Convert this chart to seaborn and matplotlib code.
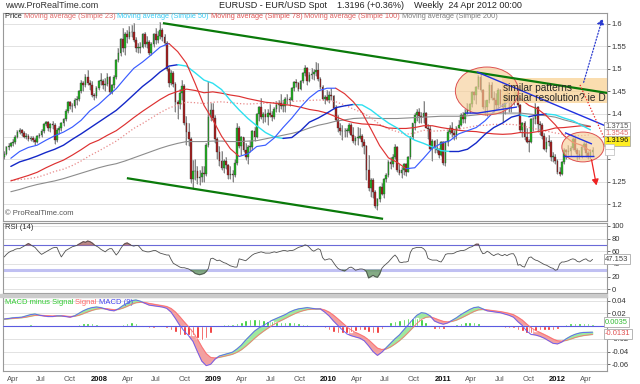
import matplotlib
matplotlib.use("Agg")
import numpy as np
import pandas as pd
import matplotlib.pyplot as plt
import matplotlib.dates as mdates
from matplotlib.patches import Ellipse, Rectangle
import seaborn as sns

# weekly EUR/USD candles, first week 5 Mar 2007
first_week = "2007-03-05"
first_open = 1.305
close = [
    1.312, 1.326, 1.330, 1.335, 1.338, 1.350, 1.360, 1.364, 1.359, 1.350,
    1.352, 1.345, 1.346, 1.343, 1.339, 1.351, 1.354, 1.362, 1.378, 1.382,
    1.369, 1.377, 1.375, 1.343, 1.365, 1.368, 1.380, 1.388, 1.407, 1.426,
    1.417, 1.418, 1.430, 1.433, 1.450, 1.468, 1.464, 1.482, 1.468, 1.465,
    1.442, 1.440, 1.458, 1.473, 1.474, 1.465, 1.467, 1.482, 1.449, 1.464,
    1.482, 1.520, 1.535, 1.565, 1.545, 1.578, 1.571, 1.581, 1.581, 1.563,
    1.546, 1.546, 1.549, 1.576, 1.554, 1.560, 1.536, 1.555, 1.577, 1.564,
    1.572, 1.586, 1.570, 1.558, 1.500, 1.468, 1.491, 1.467, 1.426, 1.422,
    1.447, 1.463, 1.381, 1.361, 1.345, 1.257, 1.273, 1.274, 1.259, 1.260,
    1.270, 1.268, 1.332, 1.394, 1.408, 1.392, 1.344, 1.316, 1.297, 1.281,
    1.295, 1.288, 1.264, 1.267, 1.264, 1.291, 1.369, 1.329, 1.348, 1.321,
    1.305, 1.327, 1.328, 1.362, 1.349, 1.399, 1.416, 1.394, 1.399, 1.393,
    1.403, 1.397, 1.394, 1.411, 1.419, 1.425, 1.418, 1.418, 1.433, 1.434,
    1.432, 1.457, 1.471, 1.468, 1.456, 1.472, 1.491, 1.501, 1.472, 1.487,
    1.488, 1.492, 1.497, 1.478, 1.460, 1.434, 1.437, 1.432, 1.441, 1.439,
    1.414, 1.387, 1.368, 1.363, 1.362, 1.363, 1.363, 1.376, 1.353, 1.341,
    1.347, 1.347, 1.351, 1.338, 1.329, 1.275, 1.236, 1.255, 1.227, 1.196,
    1.211, 1.239, 1.224, 1.257, 1.264, 1.294, 1.290, 1.305, 1.328, 1.275,
    1.270, 1.276, 1.289, 1.272, 1.305, 1.349, 1.379, 1.397, 1.405, 1.395,
    1.393, 1.402, 1.369, 1.366, 1.323, 1.340, 1.325, 1.320, 1.309, 1.338,
    1.291, 1.338, 1.361, 1.369, 1.359, 1.353, 1.370, 1.375, 1.398, 1.390,
    1.402, 1.409, 1.423, 1.448, 1.443, 1.459, 1.481, 1.453, 1.415, 1.416,
    1.430, 1.464, 1.435, 1.430, 1.420, 1.453, 1.422, 1.416, 1.439, 1.440,
    1.428, 1.424, 1.440, 1.449, 1.420, 1.365, 1.379, 1.350, 1.339, 1.338,
    1.388, 1.390, 1.415, 1.378, 1.376, 1.352, 1.323, 1.339, 1.338, 1.305,
    1.305, 1.296, 1.272, 1.268, 1.293, 1.321, 1.315, 1.319, 1.324, 1.345,
    1.320, 1.312, 1.307, 1.327, 1.334, 1.314, 1.307, 1.315, 1.3196,
]
high = [
    1.318, 1.330, 1.335, 1.339, 1.345, 1.354, 1.364, 1.368, 1.367, 1.362,
    1.358, 1.356, 1.352, 1.352, 1.347, 1.354, 1.359, 1.366, 1.381, 1.385,
    1.384, 1.381, 1.385, 1.379, 1.369, 1.374, 1.383, 1.392, 1.410, 1.428,
    1.428, 1.424, 1.435, 1.440, 1.453, 1.475, 1.472, 1.488, 1.497, 1.475,
    1.473, 1.447, 1.463, 1.476, 1.490, 1.478, 1.480, 1.490, 1.485, 1.467,
    1.486, 1.522, 1.545, 1.568, 1.590, 1.582, 1.585, 1.595, 1.597, 1.602,
    1.570, 1.556, 1.560, 1.580, 1.582, 1.572, 1.563, 1.560, 1.580, 1.590,
    1.583, 1.604, 1.590, 1.578, 1.562, 1.503, 1.497, 1.495, 1.470, 1.430,
    1.455, 1.475, 1.466, 1.395, 1.380, 1.350, 1.298, 1.300, 1.285, 1.277,
    1.285, 1.285, 1.335, 1.472, 1.425, 1.425, 1.398, 1.350, 1.330, 1.318,
    1.300, 1.305, 1.290, 1.285, 1.275, 1.300, 1.380, 1.373, 1.352, 1.348,
    1.335, 1.331, 1.340, 1.365, 1.372, 1.403, 1.418, 1.435, 1.405, 1.412,
    1.410, 1.422, 1.406, 1.415, 1.428, 1.430, 1.445, 1.430, 1.437, 1.445,
    1.438, 1.460, 1.474, 1.478, 1.470, 1.476, 1.494, 1.508, 1.505, 1.493,
    1.502, 1.500, 1.514, 1.512, 1.482, 1.465, 1.441, 1.452, 1.450, 1.458,
    1.443, 1.420, 1.398, 1.380, 1.376, 1.369, 1.370, 1.380, 1.380, 1.372,
    1.351, 1.372, 1.369, 1.356, 1.345, 1.332, 1.309, 1.258, 1.259, 1.232,
    1.215, 1.240, 1.248, 1.258, 1.270, 1.299, 1.304, 1.311, 1.333, 1.330,
    1.290, 1.283, 1.292, 1.292, 1.307, 1.352, 1.381, 1.403, 1.412, 1.414,
    1.405, 1.428, 1.404, 1.378, 1.376, 1.345, 1.343, 1.345, 1.325, 1.341,
    1.340, 1.340, 1.364, 1.376, 1.382, 1.364, 1.373, 1.386, 1.402, 1.405,
    1.411, 1.425, 1.425, 1.450, 1.450, 1.462, 1.487, 1.494, 1.456, 1.430,
    1.432, 1.470, 1.470, 1.450, 1.446, 1.458, 1.455, 1.424, 1.447, 1.455,
    1.445, 1.443, 1.450, 1.453, 1.455, 1.422, 1.383, 1.384, 1.368, 1.345,
    1.391, 1.393, 1.424, 1.418, 1.385, 1.381, 1.357, 1.350, 1.354, 1.342,
    1.315, 1.311, 1.300, 1.283, 1.297, 1.324, 1.323, 1.332, 1.330, 1.349,
    1.349, 1.325, 1.320, 1.330, 1.338, 1.338, 1.319, 1.323, 1.326,
]
low = [
    1.300, 1.309, 1.321, 1.326, 1.330, 1.334, 1.347, 1.355, 1.352, 1.346,
    1.344, 1.341, 1.340, 1.337, 1.331, 1.335, 1.346, 1.350, 1.359, 1.373,
    1.362, 1.361, 1.366, 1.333, 1.339, 1.356, 1.363, 1.374, 1.384, 1.403,
    1.410, 1.405, 1.413, 1.420, 1.429, 1.446, 1.450, 1.460, 1.465, 1.452,
    1.438, 1.430, 1.436, 1.453, 1.465, 1.456, 1.450, 1.463, 1.445, 1.444,
    1.458, 1.478, 1.515, 1.528, 1.538, 1.530, 1.558, 1.565, 1.570, 1.560,
    1.538, 1.535, 1.535, 1.545, 1.548, 1.546, 1.530, 1.530, 1.548, 1.555,
    1.556, 1.565, 1.562, 1.552, 1.496, 1.460, 1.465, 1.460, 1.405, 1.390,
    1.410, 1.430, 1.375, 1.332, 1.330, 1.248, 1.233, 1.255, 1.245, 1.242,
    1.250, 1.250, 1.262, 1.328, 1.385, 1.385, 1.335, 1.300, 1.285, 1.275,
    1.270, 1.278, 1.256, 1.256, 1.250, 1.260, 1.287, 1.325, 1.310, 1.315,
    1.298, 1.290, 1.315, 1.320, 1.340, 1.346, 1.385, 1.390, 1.380, 1.383,
    1.375, 1.393, 1.385, 1.390, 1.405, 1.405, 1.412, 1.405, 1.405, 1.422,
    1.418, 1.428, 1.450, 1.460, 1.450, 1.453, 1.468, 1.485, 1.465, 1.470,
    1.478, 1.475, 1.485, 1.474, 1.455, 1.430, 1.423, 1.428, 1.425, 1.432,
    1.410, 1.385, 1.360, 1.353, 1.343, 1.348, 1.350, 1.358, 1.352, 1.335,
    1.332, 1.332, 1.345, 1.328, 1.311, 1.253, 1.230, 1.216, 1.214, 1.193,
    1.188, 1.206, 1.220, 1.215, 1.250, 1.260, 1.278, 1.282, 1.300, 1.271,
    1.265, 1.259, 1.266, 1.262, 1.271, 1.300, 1.345, 1.364, 1.385, 1.380,
    1.380, 1.380, 1.368, 1.345, 1.320, 1.297, 1.313, 1.313, 1.303, 1.306,
    1.287, 1.286, 1.330, 1.355, 1.350, 1.343, 1.345, 1.366, 1.373, 1.380,
    1.380, 1.400, 1.402, 1.415, 1.430, 1.423, 1.455, 1.448, 1.410, 1.398,
    1.395, 1.425, 1.430, 1.405, 1.410, 1.410, 1.418, 1.383, 1.401, 1.428,
    1.405, 1.404, 1.420, 1.430, 1.415, 1.361, 1.349, 1.343, 1.335, 1.315,
    1.335, 1.363, 1.378, 1.360, 1.353, 1.345, 1.320, 1.315, 1.330, 1.295,
    1.294, 1.290, 1.268, 1.262, 1.265, 1.290, 1.300, 1.310, 1.308, 1.320,
    1.315, 1.298, 1.300, 1.303, 1.320, 1.304, 1.300, 1.300, 1.307,
]

# moving averages, read every 4th week (weeks 3, 7, 11, ...)
ma23 = [
    1.302, 1.317, 1.326, 1.331, 1.342, 1.352, 1.360, 1.371, 1.386, 1.407,
    1.421, 1.439, 1.456, 1.479, 1.501, 1.515, 1.531, 1.548, 1.556, 1.538,
    1.512, 1.467, 1.419, 1.387, 1.351, 1.323, 1.306, 1.312, 1.328, 1.331,
    1.347, 1.370, 1.391, 1.415, 1.436, 1.451, 1.457, 1.457, 1.445, 1.427,
    1.403, 1.367, 1.330, 1.303, 1.293, 1.279, 1.281, 1.302, 1.324, 1.335,
    1.341, 1.356, 1.363, 1.370, 1.385, 1.405, 1.419, 1.431, 1.434, 1.419,
    1.411, 1.396, 1.376, 1.352, 1.337, 1.331, 1.318,
]
ma50 = [
    1.284, 1.294, 1.300, 1.307, 1.315, 1.322, 1.331, 1.344, 1.356, 1.369,
    1.382, 1.395, 1.408, 1.425, 1.443, 1.461, 1.476, 1.493, 1.506, 1.509,
    1.506, 1.491, 1.475, 1.468, 1.454, 1.430, 1.409, 1.390, 1.374, 1.359,
    1.349, 1.346, 1.348, 1.363, 1.382, 1.391, 1.402, 1.414, 1.418, 1.421,
    1.420, 1.409, 1.394, 1.380, 1.369, 1.353, 1.342, 1.335, 1.327, 1.319,
    1.317, 1.317, 1.322, 1.336, 1.355, 1.370, 1.380, 1.393, 1.398, 1.394,
    1.398, 1.400, 1.398, 1.391, 1.385, 1.375, 1.365,
]
ma78 = [
    1.252, 1.258, 1.264, 1.271, 1.281, 1.290, 1.298, 1.309, 1.321, 1.334,
    1.342, 1.353, 1.363, 1.377, 1.392, 1.406, 1.419, 1.432, 1.443, 1.450,
    1.455, 1.452, 1.447, 1.449, 1.446, 1.442, 1.439, 1.434, 1.430, 1.426,
    1.424, 1.421, 1.419, 1.415, 1.410, 1.407, 1.402, 1.394, 1.386, 1.381,
    1.378, 1.377, 1.375, 1.369, 1.368, 1.368, 1.370, 1.374, 1.374, 1.370,
    1.367, 1.364, 1.362, 1.361, 1.358, 1.356, 1.355, 1.356, 1.359, 1.358,
    1.361, 1.364, 1.369, 1.370, 1.372, 1.374, 1.372,
]
ma100 = [
    1.253, 1.255, 1.257, 1.260, 1.266, 1.273, 1.278, 1.286, 1.296, 1.308,
    1.318, 1.329, 1.340, 1.354, 1.368, 1.379, 1.391, 1.403, 1.413, 1.420,
    1.426, 1.425, 1.423, 1.426, 1.427, 1.425, 1.423, 1.422, 1.423, 1.424,
    1.425, 1.427, 1.428, 1.429, 1.430, 1.431, 1.430, 1.427, 1.420, 1.411,
    1.403, 1.392, 1.377, 1.367, 1.361, 1.355, 1.358, 1.364, 1.362, 1.363,
    1.365, 1.367, 1.370, 1.374, 1.375, 1.377, 1.377, 1.377, 1.375, 1.370,
    1.366, 1.362, 1.358, 1.355, 1.353, 1.352, 1.354,
]
ma200 = [
    1.228, 1.233, 1.239, 1.244, 1.248, 1.252, 1.257, 1.263, 1.269, 1.275,
    1.281, 1.286, 1.290, 1.296, 1.303, 1.310, 1.317, 1.324, 1.330, 1.335,
    1.339, 1.339, 1.339, 1.340, 1.340, 1.339, 1.339, 1.340, 1.341, 1.345,
    1.349, 1.353, 1.357, 1.362, 1.369, 1.375, 1.379, 1.384, 1.387, 1.390,
    1.391, 1.391, 1.390, 1.390, 1.390, 1.391, 1.392, 1.393, 1.394, 1.395,
    1.395, 1.395, 1.396, 1.398, 1.400, 1.401, 1.402, 1.402, 1.402, 1.400,
    1.398, 1.396, 1.393, 1.387, 1.382, 1.377, 1.373,
]

# RSI (14), weekly
rsi = [
    51, 55, 58, 60, 61, 63, 64, 64, 66, 68,
    70, 72, 70, 68, 66, 62, 58, 55, 57, 59,
    61, 63, 65, 66, 66, 58, 51, 56, 61, 63,
    65, 67, 68, 69, 71, 73, 75, 74, 76, 75,
    73, 70, 68, 66, 63, 61, 59, 62, 64, 64,
    59, 54, 58, 64, 69, 72, 73, 71, 69, 68,
    69, 69, 65, 61, 60, 59, 59, 60, 61, 61,
    59, 57, 56, 55, 54, 54, 47, 41, 39, 37,
    35, 34, 34, 33, 32, 30, 28, 25, 24, 23,
    24, 25, 28, 33, 48, 49, 47, 45, 46, 44,
    42, 41, 39, 37, 36, 35, 35, 48, 47, 46,
    45, 48, 51, 54, 56, 57, 58, 59, 58, 57,
    57, 57, 58, 59, 58, 59, 60, 61, 61, 60,
    61, 61, 62, 64, 66, 67, 68, 70, 69, 66,
    62, 60, 62, 64, 62, 50, 46, 47, 48, 47,
    42, 37, 33, 31, 30, 29, 31, 34, 35, 33,
    30, 31, 32, 32, 31, 28, 18, 20, 22, 20,
    19, 24, 33, 37, 40, 43, 47, 51, 54, 50,
    43, 42, 43, 43, 44, 58, 64, 65, 66, 66,
    66, 64, 60, 49, 47, 46, 46, 46, 44, 43,
    48, 55, 56, 56, 56, 57, 59, 60, 61, 61,
    62, 64, 66, 67, 69, 71, 71, 62, 56, 57,
    60, 58, 55, 53, 55, 56, 54, 53, 55, 53,
    55, 56, 56, 50, 38, 39, 36, 35, 43, 50,
    51, 48, 46, 45, 43, 41, 39, 38, 36, 34,
    33, 30, 31, 40, 43, 43, 44, 45, 47, 48,
    47, 44, 43, 45, 47, 48, 45, 44, 47.153,
]

# MACD and signal, every 2nd week
macd = [
    .011, .012, .013, .0135, .014, .016, .018, .019, .017, .016,
    .015, .015, .016, .016, .015, .014, .016, .020, .024, .027,
    .029, .030, .029, .027, .025, .024, .027, .032, .036, .040,
    .041, .039, .036, .033, .032, .031, .030, .028, .022, .012,
    .001, -.008, -.015, -.024, -.040, -.055, -.062, -.060, -.052, -.047,
    -.045, -.043, -.041, -.036, -.030, -.022, -.015, -.008, -.003, .001,
    .005, .009, .012, .015, .018, .022, .025, .027, .028, .029,
    .028, .027, .027, .022, .016, .008, .001, -.006, -.012, -.015,
    -.017, -.019, -.023, -.031, -.040, -.046, -.041, -.034, -.027, -.020,
    -.014, -.006, .002, .010, .017, .021, .020, .016, .008, .005,
    .003, .005, .009, .013, .018, .022, .026, .029, .030, .027,
    .024, .023, .022, .021, .019, .017, .014, .007, .001, -.008,
    -.013, -.014, -.016, -.019, -.023, -.027, -.028, -.025, -.020, -.016,
    -.013, -.011, -.010, -.0098, -.0096,
]
signal = [
    .0110, .0114, .0120, .0125, .0131, .0141, .0155, .0168, .0169, .0165,
    .0160, .0156, .0158, .0159, .0155, .0150, .0154, .0170, .0195, .0222,
    .0247, .0266, .0275, .0273, .0265, .0256, .0261, .0282, .0310, .0343,
    .0367, .0375, .0370, .0355, .0343, .0331, .0320, .0306, .0275, .0219,
    .0144, .0063, -.0014, -.0095, -.0205, -.0329, -.0434, -.0494, -.0503, -.0491,
    -.0476, -.0460, -.0442, -.0412, -.0372, -.0317, -.0257, -.0193, -.0135, -.0083,
    -.0035, .0010, .0050, .0086, .0120, .0156, .0190, .0219, .0241, .0258,
    .0266, .0268, .0269, .0251, .0218, .0169, .0111, .0050, -.0011, -.0061,
    -.0100, -.0133, -.0168, -.0219, -.0284, -.0348, -.0370, -.0359, -.0327, -.0281,
    -.0230, -.0169, -.0101, -.0029, .0043, .0103, .0138, .0146, .0122, .0096,
    .0072, .0064, .0074, .0094, .0125, .0159, .0195, .0230, .0255, .0260,
    .0253, .0244, .0235, .0226, .0213, .0198, .0177, .0138, .0092, .0030,
    -.0028, -.0068, -.0101, -.0133, -.0168, -.0205, -.0232, -.0238, -.0225, -.0205,
    -.0180, -.0162, -.0148, -.0139, -.0131,
]

# hand drawn annotations (date, price)
chan_top = (["2008-07-23", "2012-06-09"], [1.601, 1.4465])
chan_bot = (["2008-03-30", "2010-06-25"], [1.258, 1.168])
blue_top = (["2011-04-20", "2012-06-09"], [1.493, 1.372])
blue_low = (["2011-03-13", "2011-04-23", "2011-08-26"], [1.402, 1.402, 1.4155])
tri_top = (["2012-01-26", "2012-04-21"], [1.3586, 1.3336])
tri_low = (["2012-01-20", "2012-04-27"], [1.306, 1.306])

sns.set_style("white")
plt.rcParams["font.family"] = ["Liberation Sans", "DejaVu Sans"]

dates = pd.date_range(first_week, periods=len(close), freq="7D")
df = pd.DataFrame({"date": dates, "open": [first_open] + close[:-1],
                   "high": high, "low": low, "close": close, "rsi": rsi})
ma_df = pd.DataFrame({"date": dates[3::4], "ma23": ma23, "ma50": ma50,
                      "ma78": ma78, "ma100": ma100, "ma200": ma200})
md = pd.DataFrame({"date": dates[::2], "macd": macd, "signal": signal})
md["hist"] = md["macd"] - md["signal"]

fig = plt.figure(figsize=(6.4, 3.84), dpi=100)


def box(top, bottom):
    return [3 / 640, 1 - bottom / 384, 604 / 640, (bottom - top) / 384]


ax_p = fig.add_axes(box(12.7, 220.7))
ax_r = fig.add_axes(box(222.5, 293), sharex=ax_p)
ax_m = fig.add_axes(box(297, 370.7), sharex=ax_p)
fig.patches.append(Rectangle((0, 1 - 297 / 384), 607 / 640, 3.5 / 384,
                             transform=fig.transFigure, color="#cccccc"))

# ---- price panel
up = df["close"] >= df["open"]
lo = np.minimum(df["open"], df["close"])
hgt = np.maximum((df["close"] - df["open"]).abs(), 0.0012)
ax_p.vlines(df["date"], df["low"], df["high"], color="#d2d2d2", lw=1.4, zorder=2)
ax_p.vlines(df["date"], df["low"], df["high"], color="#555555", lw=0.45, zorder=2.1)
ax_p.bar(df["date"], hgt, bottom=lo, width=5.5,
         color=np.where(up, "#22b422", "#a81e1e"), edgecolor="#333333",
         linewidth=0.25, zorder=2.2)


def two_colour(ax, x, y, c_up, c_down, **kw):
    x, y = list(x), list(y)
    col = lambda k: c_up if y[k + 1] >= y[k] else c_down
    i = 0
    while i < len(y) - 1:
        c = col(i)
        j = i
        while j < len(y) - 1 and col(j) == c:
            j += 1
        ax.plot(x[i:j + 1], y[i:j + 1], color=c, **kw)
        i = j


ax_p.plot(ma_df["date"], ma_df["ma200"], color="#8c8c8c", lw=0.8, zorder=3)
ax_p.plot(ma_df["date"], ma_df["ma100"], color="#e88a8a", lw=0.9, ls=":", zorder=3)
ax_p.plot(ma_df["date"], ma_df["ma78"], color="#dd3030", lw=0.85, zorder=3)
two_colour(ax_p, ma_df["date"], ma_df["ma50"], "#1428c8", "#2ee0f0", lw=1.0, zorder=3)
two_colour(ax_p, ma_df["date"], ma_df["ma23"], "#3a5cff", "#e03535", lw=0.85, zorder=3)

# drawings
d = lambda s: mdates.date2num(pd.Timestamp(s))
ax_p.add_patch(Rectangle((d("2011-07-09"), 1.424), d("2012-07-01") - d("2011-07-09"), 0.056,
                         facecolor="#f8cf8e", alpha=0.7, lw=0, zorder=4))
for cx, cy, w, h in [("2011-05-22", 1.4509, 201, 0.106), ("2012-03-23", 1.327, 134, 0.066)]:
    ax_p.add_patch(Ellipse((d(cx), cy), w, h, facecolor="#f7cf98", alpha=0.65,
                           edgecolor="none", zorder=4))
    ax_p.add_patch(Ellipse((d(cx), cy), w, h, facecolor="none",
                           edgecolor="#dd5050", lw=0.7, zorder=4.1))
for xs, ys, c, lw in [(chan_top[0], chan_top[1], "#0a7a0a", 1.6), (chan_bot[0], chan_bot[1], "#0a7a0a", 1.6),
                      (blue_top[0], blue_top[1], "#2030e0", 1.0), (blue_low[0], blue_low[1], "#2030e0", 1.0),
                      (tri_top[0], tri_top[1], "#2030e0", 1.0), (tri_low[0], tri_low[1], "#2030e0", 1.0)]:
    ax_p.plot(pd.to_datetime(xs), ys, color=c, lw=lw, zorder=5, solid_capstyle="butt")
ax_p.plot(pd.to_datetime(["2012-03-14", "2012-06-09"]), [1.4642, 1.3314],
          color="#ee2222", lw=0.9, ls=(0, (1, 1.5)), zorder=5)
ax_p.annotate("", xy=(pd.Timestamp("2012-05-07"), 1.236), xytext=(pd.Timestamp("2012-04-18"), 1.305),
              arrowprops=dict(arrowstyle="-|>,head_width=0.2,head_length=0.35", color="#ee2222", lw=0.9),
              zorder=5)
ax_p.annotate("", xy=(pd.Timestamp("2012-05-27"), 1.617), xytext=(pd.Timestamp("2012-03-23"), 1.4642),
              arrowprops=dict(arrowstyle="-|>,head_width=0.2,head_length=0.35", color="#2a3ad0", lw=0.9,
                              ls=(0, (1, 1.5))), zorder=5, annotation_clip=False)
ax_p.text(pd.Timestamp("2011-07-11"), 1.4575, "similar patterns", fontsize=7.3,
          va="center", ha="left", zorder=6, clip_on=True)
ax_p.text(pd.Timestamp("2011-07-11"), 1.4343, "similar resolution? ie D", fontsize=7.3,
          va="center", ha="left", zorder=6, clip_on=True)

ax_p.set_ylim(1.1639, 1.6241)
p_ticks = [1.2, 1.25, 1.3, 1.35, 1.4, 1.45, 1.5, 1.55, 1.6]
ax_p.set_yticks(p_ticks)
ax_p.set_yticklabels(["1.2", "1.25", "", "", "1.4", "1.45", "1.5", "1.55", "1.6"])
for t in ax_p.get_yticklabels():
    if t.get_text() == "1.5":
        t.set_fontweight("bold")
ax_p.text(0.003, 0.035, "\u00a9 ProRealTime.com", transform=ax_p.transAxes,
          fontsize=5.5, color="#555555", va="center")

# legend line
legend_parts = [("Price ", "#222222"), ("Moving average (Simple 23) ", "#e26a6a"),
                ("Moving average (Simple 50) ", "#38cdf5"), ("Moving average (Simple 78) ", "#e05555"),
                ("Moving average (Simple 100) ", "#e06060"), ("Moving average (Simple 200)", "#808080")]
prev = ax_p.text(0.003, 0.981, legend_parts[0][0], transform=ax_p.transAxes,
                 fontsize=5.3, color=legend_parts[0][1], va="center")
for txt, c in legend_parts[1:]:
    prev = ax_p.annotate(txt, xy=(1, 0), xycoords=prev, fontsize=5.3, color=c, va="bottom")

# value boxes on the right
ytr = ax_p.get_yaxis_transform()
bx = dict(boxstyle="square,pad=0.18", facecolor="white", edgecolor="#aaaaaa", lw=0.6)
ax_p.text(0.9967, 1.3719, "1.3715", transform=ytr, fontsize=5.5, color="#555555",
          va="center", bbox=bx, clip_on=False, zorder=7)
ax_p.text(0.9967, 1.3558, "1.3545", transform=ytr, fontsize=5.5, color="#e07070",
          va="center", bbox=bx, clip_on=False, zorder=7)
ax_p.text(0.9967, 1.3409, "1.3196", transform=ytr, fontsize=5.5, color="#111111", va="center",
          bbox=dict(boxstyle="square,pad=0.18", facecolor="#ffee22", edgecolor="#aaaaaa", lw=0.6),
          clip_on=False, zorder=7)
for yy in [1.3275, 1.3165]:
    ax_p.text(0.9967, yy, "      ", transform=ytr, fontsize=3.5, va="center",
              bbox=dict(boxstyle="square,pad=0.1", facecolor="white", edgecolor="#bbbbbb", lw=0.5),
              clip_on=False, zorder=7)

# ---- RSI panel
sns.lineplot(data=df, x="date", y="rsi", ax=ax_r, color="#505050", lw=0.6, zorder=4)
r = df["rsi"].to_numpy(float)
ax_r.fill_between(df["date"], r, 70, where=r >= 70, interpolate=True, color="#b07272", alpha=0.85, zorder=3)
ax_r.fill_between(df["date"], r, 30, where=r <= 30, interpolate=True, color="#6f9c6f", alpha=0.85, zorder=3)
ax_r.axhline(70, color="#6a6ad8", lw=0.8, zorder=2)
ax_r.axhline(30, color="#c0c0f2", lw=2.2, zorder=2)
ax_r.set_ylim(-5.8, 105.2)
ax_r.set_yticks([0, 20, 40, 60, 80, 100])
ax_r.set_yticklabels(["0", "20", "40", "60", "80", "100"])
ax_r.text(0.003, 0.93, "RSI (14)", transform=ax_r.transAxes, fontsize=5.5, color="#333333", va="center")
ax_r.text(0.9967, 47.153, "47.153", transform=ax_r.get_yaxis_transform(), fontsize=5.5,
          color="#444444", va="center", bbox=bx, clip_on=False, zorder=7)

# ---- MACD panel
mv, sv = md["macd"].to_numpy(), md["signal"].to_numpy()
ax_m.fill_between(md["date"], mv, sv, where=mv >= sv, interpolate=True, color="#9fe89f", zorder=3)
ax_m.fill_between(md["date"], mv, sv, where=mv < sv, interpolate=True, color="#f2a0a0", zorder=3)
ax_m.bar(md["date"], md["hist"], width=8, color=np.where(md["hist"] >= 0, "#22c822", "#ee1c1c"),
         zorder=3.5)
sns.lineplot(data=md, x="date", y="signal", ax=ax_m, color="#ff7070", lw=0.6, zorder=4)
sns.lineplot(data=md, x="date", y="macd", ax=ax_m, color="#5a5aff", lw=0.6, zorder=4)
ax_m.axhline(0, color="#5a5ae0", lw=0.8, zorder=3.6)
ax_m.set_ylim(-0.0701, 0.0457)
ax_m.set_yticks([-0.06, -0.04, -0.02, 0, 0.02, 0.04])
ax_m.set_yticklabels(["-0.06", "-0.04", "-0.02", "", "0.02", "0.04"])
prev = ax_m.text(0.003, 0.93, "MACD minus Signal ", transform=ax_m.transAxes,
                 fontsize=5.5, color="#33cc33", va="center")
for txt, c in [("Signal ", "#ff6666"), ("MACD (9)", "#4444ee")]:
    prev = ax_m.annotate(txt, xy=(1, 0), xycoords=prev, fontsize=5.5, color=c, va="bottom")
ytm = ax_m.get_yaxis_transform()
ax_m.text(0.9967, 0.006, "0.0035", transform=ytm, fontsize=5.5, color="#33bb33",
          va="center", bbox=bx, clip_on=False, zorder=7)
ax_m.text(0.9967, -0.012, "-0.0131", transform=ytm, fontsize=5.5, color="#e05050",
          va="center", bbox=bx, clip_on=False, zorder=7)

# ---- common axis styling
tick_dates = pd.date_range("2007-04-01", "2012-04-01", freq="QS-JAN")
tick_labels = [str(t.year) if t.month == 1 else t.strftime("%b") for t in tick_dates]
ax_m.set_xticks(tick_dates)
ax_m.set_xticklabels(tick_labels)
ax_m.set_xlim(pd.Timestamp("2007-03-01"), pd.Timestamp("2012-06-08"))

for ax in (ax_p, ax_r, ax_m):
    ax.yaxis.tick_right()
    ax.tick_params(axis="y", labelsize=5.5, length=2, pad=1.5, colors="#333333", width=0.5)
    ax.grid(axis="y", color="#e2e2e2", lw=0.7)
    ax.set_axisbelow(True)
    ax.set_xlabel("")
    ax.set_ylabel("")
    for s in ax.spines.values():
        s.set_color("#999999")
        s.set_linewidth(0.8)
for ax in (ax_p, ax_r):
    ax.tick_params(axis="x", labelbottom=False, length=0)
ax_m.tick_params(axis="x", labelsize=5.5, length=2, pad=2, width=0.5, colors="#555555")
for t in ax_m.get_xticklabels():
    if t.get_text().isdigit():
        t.set_fontweight("bold")
        t.set_color("#111111")

fig.text(5 / 640, 1 - 5.5 / 384, "www.ProRealTime.com", fontsize=6.5, color="#333333", va="center")
fig.text(370 / 640, 1 - 5.5 / 384,
         "EURUSD - EUR/USD Spot    1.3196 (+0.36%)    Weekly  24 Apr 2012 00:00",
         fontsize=6.5, color="#222222", va="center", ha="center")

fig.savefig("out.png", dpi=100, facecolor="white")
